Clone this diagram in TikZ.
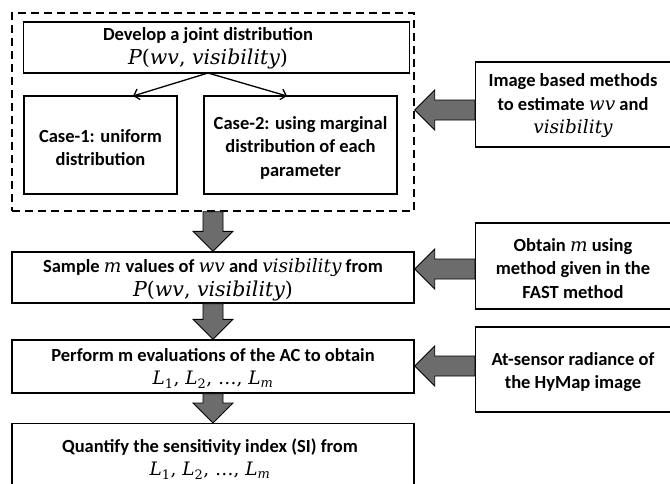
\documentclass[tikz,border=0pt]{standalone}
\usepackage{fontspec}
\setmainfont{Carlito}
\newfontfamily\mfam{DejaVu Serif}
\newcommand\mv[1]{{\mfam\mdseries\itshape #1}}
\newcommand\mup[1]{{\mfam\mdseries\upshape #1}}
\newcommand\Pdist{{\fontsize{20.5}{23.5}\selectfont\mv{P}\mup{(}\mv{wv}\mup{, }\mv{visibility}\mup{)}}}
\newcommand\Lseq{\mv{L}\textsubscript{\mup{1}}\mup{, }\mv{L}\textsubscript{\mup{2}}\mup{, \dots, }\mv{L}\textsubscript{\mv{m}}}
\usetikzlibrary{calc,arrows.meta}
\definecolor{arrgray}{RGB}{108,108,108}
\tikzset{
  box/.style={draw=black, line width=1.4pt, inner sep=0pt},
  txt/.style={align=center, inner sep=0pt, font=\fontsize{18.5}{23.5}\selectfont\bfseries},
  fat/.style={draw=black, line width=0.9pt, fill=arrgray, line join=miter},
  thin/.style={draw=black, line width=1.3pt, -{Straight Barb[length=5pt,width=11pt,line width=1.3pt]}},
}
\newcommand\fatdown[2]{\draw[fat] let \p1=(#1), \p2=(#2) in
  (\x1-10pt,\y1) -- (\x1+10pt,\y1) -- (\x1+10pt,\y2+20pt) -- (\x1+20pt,\y2+20pt)
  -- (\x1,\y2) -- (\x1-20pt,\y2+20pt) -- (\x1-10pt,\y2+20pt) -- cycle;}
\newcommand\fatleft[2]{\draw[fat] let \p1=(#1), \p2=(#2) in
  (\x1,\y1+10pt) -- (\x1,\y1-10pt) -- (\x2+20pt,\y1-10pt) -- (\x2+20pt,\y1-20pt)
  -- (\x2,\y1) -- (\x2+20pt,\y1+20pt) -- (\x2+20pt,\y1+10pt) -- cycle;}
\begin{document}
\begin{tikzpicture}[x=1pt,y=-1pt]
\useasboundingbox (0,0) rectangle (670,483);
% dashed frame
\node[draw=black, line width=1.4pt, dash pattern=on 8pt off 5pt, minimum width=402pt, minimum height=198pt, inner sep=0pt] (dash) at (213,112) {};
% inner boxes
\node[box, minimum width=386pt, minimum height=51pt] (dev) at (216.5,47.5) {};
\node[txt] (devt) at (208,48.5) {Develop a joint distribution\\ \Pdist};
\node[box, minimum width=153pt, minimum height=98pt] (c1) at (100.5,145) {};
\node[txt] (c1t) at (100.5,147.5) {Case-1: uniform\\distribution};
\node[box, minimum width=193pt, minimum height=98pt] (c2) at (300.5,145) {};
\node[txt] (c2t) at (300.5,147.5) {Case-2: using marginal\\distribution of each\\parameter};
\coordinate (s) at (208,73);
\coordinate (e1) at (133,96);
\coordinate (e2) at (287,96);
\draw[thin] (s) -- (e1);
\draw[thin] (s) -- (e2);
% main column
\node[box, minimum width=402pt, minimum height=51pt] (samp) at (213,277.5) {};
\node[txt] (sampt) at (213,279.5) {Sample \mv{m} values of \mv{wv} and \mv{visibility} from\\ \Pdist};
\node[box, minimum width=402pt, minimum height=53pt] (perf) at (213,366.5) {};
\node[txt] (perft) at (213,368.5) {Perform m evaluations of the AC to obtain\\ \Lseq};
\node[box, minimum width=402pt, minimum height=90pt, anchor=north] (quan) at (213,423) {};
\node[txt] (quant) at (210,459) {Quantify the sensitivity index (SI) from\\ \Lseq};
% right boxes
\node[box, minimum width=197pt, minimum height=85pt, anchor=west] (img) at (475,104.5) {};
\node[txt] (imgt) at (573,106) {Image based methods\\to estimate \mv{wv} and\\ \mv{visibility}};
\node[box, minimum width=197pt, minimum height=86pt, anchor=west] (obt) at (475,266) {};
\node[txt] (obtt) at (573,268.5) {Obtain \mv{m} using\\method given in the\\FAST method};
\node[box, minimum width=197pt, minimum height=85pt, anchor=west] (hym) at (475,369.5) {};
\node[txt] (hymt) at (573,372) {At-sensor radiance of\\the HyMap image};
% fat arrows
\fatdown{dash.south}{samp.north}
\fatdown{samp.south}{perf.north}
\fatdown{perf.south}{quan.north}
\coordinate (a1) at (475,110);
\coordinate (a2) at (475,269);
\coordinate (a3) at (475,366);
\fatleft{a1}{a1 -| dash.east}
\fatleft{a2}{a2 -| samp.east}
\fatleft{a3}{a3 -| perf.east}
\end{tikzpicture}
\end{document}
